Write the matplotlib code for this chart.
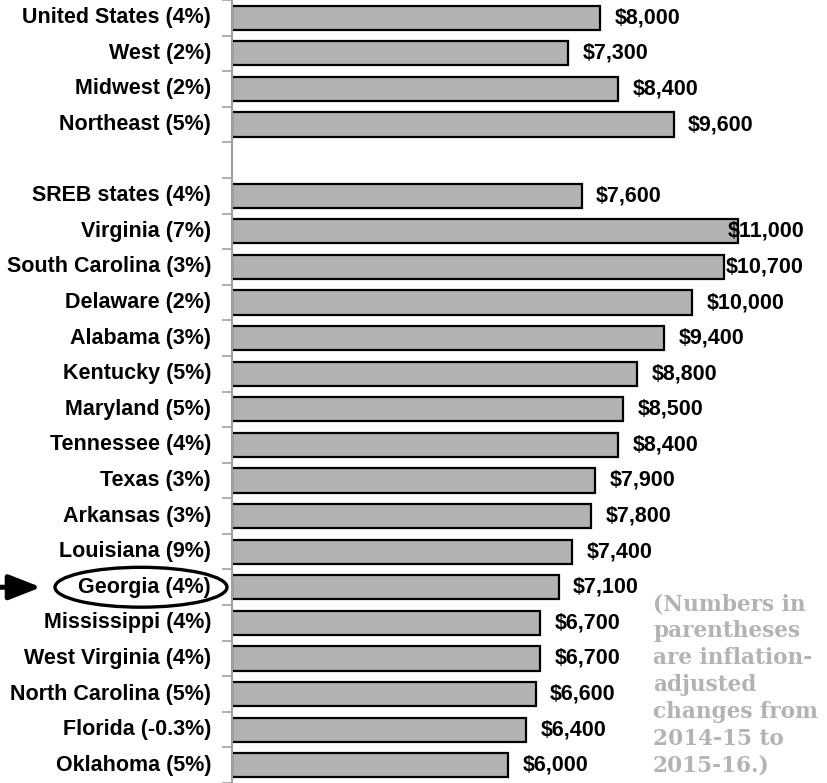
import matplotlib
matplotlib.use("Agg")
import matplotlib.pyplot as plt
from matplotlib.patches import Ellipse
from matplotlib.transforms import blended_transform_factory

categories = ["United States (4%)", "West (2%)", "Midwest (2%)", "Northeast (5%)", "",
              "SREB states (4%)", "Virginia (7%)", "South Carolina (3%)", "Delaware (2%)",
              "Alabama (3%)", "Kentucky (5%)", "Maryland (5%)", "Tennessee (4%)",
              "Texas (3%)", "Arkansas (3%)", "Louisiana (9%)", "Georgia (4%)",
              "Mississippi (4%)", "West Virginia (4%)", "North Carolina (5%)",
              "Florida (-0.3%)", "Oklahoma (5%)"]
values = [8000, 7300, 8400, 9600, None,
          7600, 11000, 10700, 10000, 9400, 8800, 8500, 8400, 7900, 7800, 7400, 7100,
          6700, 6700, 6600, 6400, 6000]
value_labels = ["$8,000", "$7,300", "$8,400", "$9,600", "",
                "$7,600", "$11,000", "$10,700", "$10,000", "$9,400", "$8,800", "$8,500",
                "$8,400", "$7,900", "$7,800", "$7,400", "$7,100", "$6,700", "$6,700",
                "$6,600", "$6,400", "$6,000"]
note = "(Numbers in\nparentheses\nare inflation-\nadjusted\nchanges from\n2014-15 to\n2015-16.)"
highlight = "Georgia (4%)"

W, H = 827, 783
fig = plt.figure(figsize=(W / 100, H / 100), dpi=100)
ax_left = 232 / W
ax = fig.add_axes([ax_left, 0, 1 - ax_left, 1])

px_per_dollar = 0.046
xmax = (W - 232) / px_per_dollar
ax.set_xlim(0, xmax)
n = len(categories)
ax.set_ylim(n - 0.5, -0.5)

font = "Liberation Sans"
fs = 15.5
for i, v in enumerate(values):
    if v is None:
        continue
    ax.barh(i, v, height=0.68, color="#b2b2b2", edgecolor="black", linewidth=1.6, zorder=2)

fig.canvas.draw()
renderer = fig.canvas.get_renderer()
right_limit_px = 804
for i, (v, lab) in enumerate(zip(values, value_labels)):
    if v is None:
        continue
    t = ax.annotate(lab, (v, i), xytext=(10.5, 0), textcoords="offset points",
                    ha="left", va="center", fontsize=fs, fontweight="bold",
                    family=font, color="black", zorder=3)
    bb = t.get_window_extent(renderer)
    if bb.x1 > right_limit_px:
        t.remove()
        xr = (right_limit_px - 232) / px_per_dollar
        ax.text(xr, i, lab, ha="right", va="center", fontsize=fs, fontweight="bold",
                family=font, color="black", zorder=3)

# ticks at row boundaries
ax.set_yticks([i - 0.5 for i in range(n + 1)])
ax.set_yticklabels([])
ax.tick_params(axis="y", length=7, width=1.2, color="#a0a0a0", direction="out")
ax.set_xticks([])
for s in ["top", "right", "bottom"]:
    ax.spines[s].set_visible(False)
ax.spines["left"].set_color("#a0a0a0")
ax.spines["left"].set_linewidth(1.5)

for i, c in enumerate(categories):
    if c:
        ax.annotate(c, (0, i), xycoords=("axes fraction", "data"), xytext=(-15, 0),
                    textcoords="offset points", ha="right", va="center", fontsize=fs,
                    fontweight="bold", family=font, color="black", annotation_clip=False)

# highlight ellipse and arrow around Georgia
gi = categories.index(highlight)
tr = blended_transform_factory(fig.transFigure, ax.transData)
ell = Ellipse((141 / W, gi), 172 / W, 1.12, transform=tr, fill=False,
              edgecolor="black", linewidth=2.4, clip_on=False, zorder=5)
fig.add_artist(ell)
ax.annotate("", xy=(41 / W, gi), xycoords=tr, xytext=(0, gi), textcoords=tr,
            arrowprops=dict(arrowstyle="-|>,head_length=0.97,head_width=0.38",
                            mutation_scale=20, color="black", lw=3.6,
                            shrinkA=0, shrinkB=0),
            annotation_clip=False)

fig.text(653 / W, 1 - 593 / H, note, ha="left", va="top", fontsize=15.6,
         fontweight="bold", family="DejaVu Serif", color="#b3b3b3", linespacing=1.29)

fig.savefig("out.png", dpi=100)
